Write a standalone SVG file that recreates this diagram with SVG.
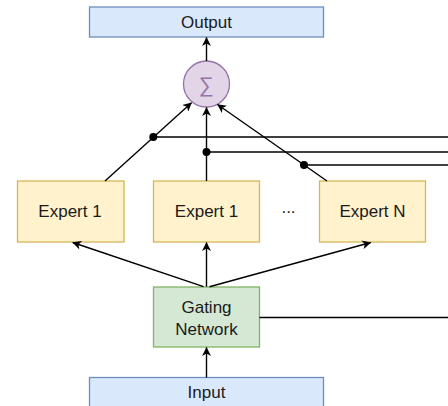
<svg xmlns="http://www.w3.org/2000/svg" width="448" height="406" viewBox="0 0 448 406">
  <style>
    .lbl { font-family: "Liberation Sans", Arial, sans-serif; font-size: 17px; fill: #1a1a1a; text-anchor: middle; }
    .blue { fill: #dae8fc; stroke: #6c8ebf; stroke-width: 1.3; }
    .yellow { fill: #fff2cc; stroke: #d6b656; stroke-width: 1.3; }
    .green { fill: #d5e8d4; stroke: #82b366; stroke-width: 1.3; }
    .purple { fill: #e1d5e7; stroke: #9673a6; stroke-width: 1.3; }
    .edge { fill: none; stroke: #000; stroke-width: 1.4; }
    .arr { marker-end: url(#arrow); }
    .dot { fill: #000; }
  </style>
  <defs>
    <marker id="arrow" viewBox="0 0 10 10" refX="9.5" refY="5" markerWidth="10" markerHeight="9" markerUnits="userSpaceOnUse" orient="auto">
      <path d="M0,0 L10,5 L0,10 L2.8,5 Z" fill="#000"/>
    </marker>
  </defs>
  <rect width="448" height="406" fill="#fff"/>

  <g id="output">
    <rect class="blue" x="89.5" y="7" width="234" height="30"/>
    <text class="lbl" x="206.5" y="28">Output</text>
  </g>
  <g id="sum">
    <circle class="purple" cx="206.5" cy="84" r="23"/>
    <text x="206" y="91.5" font-family="Liberation Sans, Arial, sans-serif" font-size="21" fill="#9673a6" text-anchor="middle">∑</text>
  </g>
  <g id="expert1">
    <rect class="yellow" x="17.5" y="181" width="106.5" height="61"/>
    <text class="lbl" x="70" y="217">Expert 1</text>
  </g>
  <g id="expert2">
    <rect class="yellow" x="153.5" y="181" width="106" height="61"/>
    <text class="lbl" x="206.5" y="217">Expert 1</text>
  </g>
  <g id="ellipsis">
    <text class="lbl" x="288.5" y="212.5" font-size="15">...</text>
  </g>
  <g id="expertN">
    <rect class="yellow" x="319.5" y="181" width="106" height="61"/>
    <text class="lbl" x="372.5" y="217">Expert N</text>
  </g>
  <g id="gating">
    <rect class="green" x="153.5" y="287" width="106" height="60"/>
    <text class="lbl" x="206.5" y="313">Gating</text>
    <text class="lbl" x="206.5" y="335">Network</text>
  </g>
  <g id="input">
    <rect class="blue" x="89.5" y="377.5" width="234" height="40"/>
    <text class="lbl" x="206.5" y="398">Input</text>
  </g>

  <g id="connectors">
    <line class="edge arr" x1="206.5" y1="61" x2="206.5" y2="37.5"/>
    <line class="edge arr" x1="105" y1="181" x2="191.5" y2="102.7"/>
    <line class="edge arr" x1="206.5" y1="181" x2="206.5" y2="107.5"/>
    <line class="edge arr" x1="327" y1="181" x2="217.5" y2="104.5"/>
    <line class="edge" x1="153.3" y1="137" x2="448" y2="137"/>
    <line class="edge" x1="206.5" y1="152" x2="448" y2="152"/>
    <line class="edge" x1="304" y1="165" x2="448" y2="165"/>
    <circle class="dot" cx="153.3" cy="137" r="4"/>
    <circle class="dot" cx="206.5" cy="152" r="4"/>
    <circle class="dot" cx="304" cy="165" r="4"/>
    <line class="edge arr" x1="203.5" y1="286.7" x2="72.7" y2="242.5"/>
    <line class="edge arr" x1="206.5" y1="286.7" x2="206.5" y2="242.5"/>
    <line class="edge arr" x1="209.5" y1="286.7" x2="370.7" y2="242.5"/>
    <line class="edge arr" x1="206.5" y1="377.5" x2="206.5" y2="347.5"/>
    <line class="edge" x1="259.5" y1="317.5" x2="448" y2="317.5"/>
  </g>
</svg>
